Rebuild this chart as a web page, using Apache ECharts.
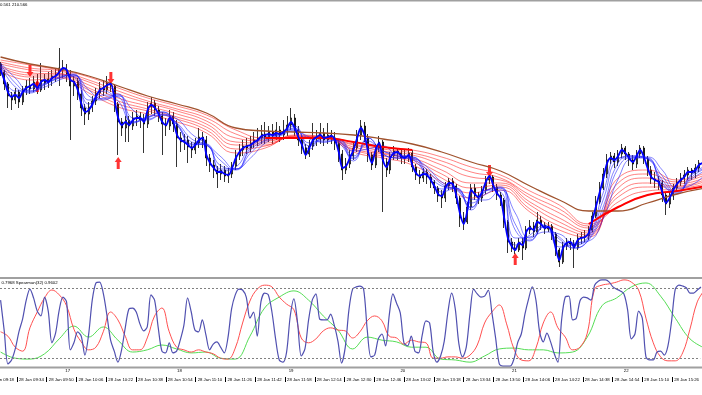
<!DOCTYPE html>
<html><head><meta charset="utf-8">
<script src="https://cdn.jsdelivr.net/npm/echarts@6/dist/echarts.min.js"></script>
<style>html,body{margin:0;padding:0;background:#fff}#c{width:702px;height:395px}</style>
</head><body><div id="c"></div>
<script>
// ===== DATA (price in chart points, oscillator in -1..1) =====
const T0 = 565.2;   // minute-of-day of first sampled bar
const STEP = 1.97;  // minutes between samples

const candleOpen = [236,228,216,204,200,208,198,210,214,211,218,210,220,217,221,224,226,232,230,226,214,219,206,192,186,193,199,207,212,210,217,214,196,178,172,180,174,182,184,180,176,193,197,190,184,176,174,184,176,162,158,160,153,150,157,163,160,142,135,130,126,130,124,126,134,144,150,154,152,157,160,162,166,163,168,164,170,165,170,175,182,170,160,152,146,154,163,161,167,160,165,162,157,146,130,136,144,152,165,174,162,145,135,152,158,138,130,144,149,147,142,144,147,133,125,122,128,123,118,112,104,102,114,119,114,102,82,78,93,112,104,102,110,120,123,113,105,100,78,58,52,50,58,52,70,74,68,80,75,71,74,66,50,38,54,58,56,52,62,63,64,70,84,98,112,126,140,144,138,146,152,146,140,136,146,152,141,130,121,119,117,105,96,104,112,118,122,125,130,127,132,137];
const candleClose = [228,216,204,200,208,198,210,214,211,218,210,220,217,221,224,226,232,230,226,214,219,206,192,186,193,199,207,212,210,217,214,196,178,172,180,174,182,184,180,176,193,197,190,184,176,174,184,176,162,158,160,153,150,157,163,160,142,135,130,126,130,124,126,134,144,150,154,152,157,160,162,166,163,168,164,170,165,170,175,182,170,160,152,146,154,163,161,167,160,165,162,157,146,130,136,144,152,165,174,162,145,135,152,158,138,130,144,149,147,142,144,147,133,125,122,128,123,118,112,104,102,114,119,114,102,82,78,93,112,104,102,110,120,123,113,105,100,78,58,52,50,58,52,70,74,68,80,75,71,74,66,50,38,54,58,56,52,62,63,64,70,84,98,112,126,140,144,138,146,152,146,140,136,146,152,141,130,121,119,117,105,96,104,112,118,122,125,130,127,132,137,136];
const candleLow = [224,210,192,190,196,192,195,205,206,208,206,208,210,212,214,218,214,222,218,160,204,200,184,175,180,188,195,202,204,206,208,188,145,164,158,158,170,174,172,147,172,186,184,178,145,164,170,168,133,148,150,137,142,146,152,152,134,128,122,112,120,118,117,122,130,140,144,146,148,152,154,156,156,158,156,160,158,160,164,170,164,154,146,141,143,150,154,156,154,156,156,150,138,120,126,132,140,148,160,158,138,130,132,148,88,123,126,140,140,136,136,138,128,120,116,118,116,112,106,98,92,98,110,108,96,73,70,76,90,100,96,98,106,116,108,100,94,72,47,48,46,48,40,50,66,63,66,70,66,68,60,44,33,36,50,50,32,50,56,58,60,68,82,96,110,122,136,132,134,142,140,134,130,132,142,136,124,116,112,110,98,85,92,100,108,114,116,120,120,122,128,130];
const candleHigh = [238,230,218,208,212,210,214,220,222,224,226,237,226,228,230,232,252,240,236,230,224,222,210,196,198,204,212,218,220,224,218,216,198,182,184,184,188,190,188,186,198,203,200,194,188,182,190,188,180,168,166,164,158,162,172,168,164,146,140,134,136,134,132,138,150,156,160,162,164,168,172,175,178,174,176,178,174,180,184,192,186,174,164,156,160,177,170,177,172,177,170,168,160,150,142,150,158,170,180,178,166,148,156,164,160,142,148,154,152,150,150,152,150,136,130,132,131,126,120,114,110,118,122,122,116,104,88,98,116,116,108,114,124,124,125,116,108,102,80,62,58,62,62,74,80,78,88,84,78,78,76,68,52,58,62,62,60,66,68,70,74,88,104,118,132,146,148,147,150,156,154,148,145,150,155,154,144,134,128,124,120,108,108,116,122,127,130,133,132,136,140,142];

// fast MA (thick blue), one value per bar
const fastMA = [230,220,208,203,205,202,208,212,214,216,212,218,220,218,222,224,228,232,230,220,218,210,196,188,190,196,204,210,212,215,216,200,182,175,178,175,180,182,182,178,190,195,192,186,178,175,182,178,165,160,158,155,152,155,160,162,145,137,132,128,128,126,125,132,142,148,152,154,155,158,160,164,165,166,165,167,166,168,172,178,172,163,155,145,152,160,163,165,162,163,164,160,148,132,134,142,150,162,172,165,148,137,150,157,140,133,142,147,148,144,142,145,135,127,124,126,125,120,114,106,104,112,117,116,104,86,76,90,110,106,103,108,118,124,115,107,102,82,62,54,50,57,55,68,72,70,78,76,72,73,68,52,40,52,57,58,53,60,62,63,67,80,94,108,122,137,142,140,144,150,147,142,138,144,150,143,132,123,120,118,108,97,102,110,116,120,123,128,128,130,135,137];

// short-term ribbon (thin blue), one value every 4 bars
const blue1 = [233,205,211,217,225,223,191,209,199,178,183,185,175,155,156,129,133,154,163,166,174,151,163,157,142,162,149,146,141,125,108,112,92,110,108,55,65,75,53,56,64,108,142,142,142,115,109,126,134];
const blue2 = [234,209,209,216,223,225,196,205,203,177,183,188,175,156,155,131,131,152,162,166,172,154,162,159,139,162,146,142,141,125,111,112,90,109,112,62,63,74,58,55,63,101,141,144,142,117,106,125,132];
const blue3 = [235,213,208,216,222,226,200,202,205,178,182,188,176,158,155,134,131,150,160,166,171,157,160,159,141,159,146,142,143,127,114,111,93,109,113,70,60,74,61,52,61,94,137,144,141,120,107,123,132];
const blue4 = [236,217,207,215,222,225,204,200,206,182,181,186,177,161,155,139,130,147,159,165,170,161,158,160,144,156,149,144,143,130,116,110,97,106,112,76,59,73,63,52,60,89,132,143,141,124,108,121,130];
const blue5 = [237,222,209,213,220,224,210,201,204,190,180,185,181,166,156,143,131,142,157,164,169,163,158,161,149,151,154,144,142,133,118,112,101,100,110,87,62,68,66,57,59,82,121,142,143,130,112,115,127];

// long-term ribbon (red), one value every 8 bars; redSlow is drawn bold where it shows bold
const red1 = [229,220,222,207,193,186,178,167,147,152,165,163,148,142,135,118,102,110,88,70,63,122,130,120,128];
const red2 = [231,223,223,210,196,189,181,170,151,154,164,163,150,144,138,122,107,113,91,74,65,117,126,118,126];
const red3 = [233,225,225,212,199,191,183,173,155,155,164,163,151,146,140,126,112,115,95,78,67,112,122,116,123];
const red4 = [234,227,226,215,202,194,186,176,158,157,163,162,153,147,142,130,117,117,98,82,69,107,117,114,121];
const red5 = [236,230,227,218,206,197,189,179,162,159,163,162,155,149,145,135,123,120,102,87,72,103,113,113,119];
const red6 = [238,232,229,220,209,199,191,182,166,160,162,162,156,151,147,139,128,122,105,91,74,98,109,111,116];
const redSlow = [240,235,230,223,212,202,194,185,170,162,162,162,158,153,150,143,133,125,109,95,76,93,105,109,114];
const redSlowBoldFrom = [9, 20];   // sample ranges (inclusive) drawn bold
const redSlowBoldTo = [14, 24];

// slow trend MA (brown), one value every 8 bars
const trendMA = [243,236,231,224,214,204,196,187,172,169,168,167,165,161,156,148,138,129,114,100,89,89,97,106,112];

// signal arrows (bar index, price)
const sellBar = [8, 30, 133];
const sellPrice = [229, 222, 129];
const buyBar = [10, 32, 140];
const buyPrice = [214, 137, 41];

// Spearman sub-window
const spearFast = [0.52,-0.18,-0.93,-0.84,-0.59,-0.20,0.09,0.52,0.77,0.57,0.27,0.16,0.59,0.27,-0.45,-0.23,0.30,0.59,0.48,-0.61,-0.45,-0.20,-0.30,-0.73,-0.27,0.52,0.91,0.93,0.68,0.18,-0.39,-0.64,-0.89,-0.61,-0.11,0.32,0.34,0.25,-0.02,-0.18,-0.09,0.64,0.52,-0.11,-0.64,-0.68,-0.45,-0.68,-0.64,-0.39,-0.05,0.57,0.25,-0.16,-0.20,0.07,-0.27,-0.61,-0.48,-0.43,-0.55,-0.68,-0.34,0.32,0.64,0.77,0.75,0.59,0.11,0.25,-0.30,0.48,0.68,0.64,0.25,-0.36,-0.84,-0.89,-0.66,0.16,0.55,0.00,-0.75,-0.59,0.07,0.52,0.66,0.09,0.07,0.07,0.20,-0.05,-0.41,-0.91,-0.55,0.30,0.77,0.82,0.84,0.77,-0.16,-0.77,-0.73,-0.36,-0.25,-0.52,0.18,0.66,0.45,0.23,-0.45,-0.52,-0.30,-0.64,-0.68,-0.27,0.05,0.00,-0.66,-0.89,-0.75,-0.41,0.25,0.68,0.32,-0.48,-0.77,-0.55,0.20,0.77,0.66,0.59,0.61,0.75,0.23,-0.34,-0.93,-0.98,-0.98,-0.98,-0.82,-0.45,-0.25,0.20,0.55,0.82,0.52,-0.20,-0.43,-0.23,-0.43,-0.70,-0.89,0.07,0.59,0.61,0.07,0.11,0.50,0.59,0.57,0.52,0.86,0.95,0.98,0.98,0.93,0.82,0.77,0.73,0.66,0.30,-0.36,-0.25,0.27,0.11,-0.77,-0.84,-0.84,-0.66,-0.64,-0.73,-0.52,0.05,0.77,0.86,0.84,0.80,0.68,0.68,0.75,0.82];
const spearMid = [-0.20,-0.30,-0.55,-0.64,-0.11,0.25,0.57,0.75,0.64,0.39,-0.14,-0.43,-0.61,-0.55,-0.20,0.25,0.07,-0.30,-0.61,-0.61,-0.34,0.16,0.34,-0.20,-0.55,-0.61,-0.66,-0.61,-0.66,-0.70,-0.80,-0.82,-0.57,0.00,0.50,0.77,0.86,0.82,0.59,0.43,0.30,-0.34,-0.45,-0.36,-0.18,-0.11,-0.16,-0.18,-0.34,-0.20,0.05,0.16,0.05,-0.30,-0.34,-0.48,-0.39,-0.43,-0.45,-0.80,-0.80,-0.77,-0.77,-0.80,-0.73,-0.50,0.00,0.25,0.41,-0.02,-0.59,-0.84,-0.86,-0.57,0.00,0.25,-0.11,-0.32,-0.61,-0.55,-0.23,0.77,0.86,0.89,0.93,0.98,0.93,0.75,0.11,-0.45,-0.77,-0.86,-0.86,-0.68,-0.14,0.48,0.75];
const spearSlow = [-0.66,-0.80,-0.82,-0.70,-0.36,-0.07,-0.32,-0.09,-0.39,-0.66,-0.61,-0.50,-0.59,-0.68,-0.66,-0.80,-0.82,-0.30,0.34,0.59,0.73,0.52,0.16,-0.16,-0.59,-0.32,-0.39,-0.43,-0.55,-0.55,-0.82,-0.84,-0.89,-0.75,-0.59,-0.57,-0.61,-0.61,-0.68,-0.66,-0.32,0.39,0.57,0.82,0.91,0.61,0.11,-0.36,-0.57];
const spearLevels = [0.8, -0.8];

// axis texts
const tickDate = '28 Jan';
const tickTimes = ['09:18','09:34','09:50','10:06','10:22','10:38','10:54','11:10','11:26','11:42','11:58','12:14','12:30','12:46','13:02','13:18','13:34','13:50','14:06','14:22','14:38','14:54','15:10','15:26'];
const hourTimes = ['10:00','11:00','12:00','13:00','14:00','15:00'];
const hourLabels = ['17','18','19','20','21','22'];
const mainTitle = '0.561 210.566';
const subTitle = '0.7968 Spearman(32) 0.9602';

// ===== CHART =====
const W = 702;
const X_MIN = 564.89, X_MAX = 941.1;   // visible time window (minute of day)
const PX_PER_MIN = W / (X_MAX - X_MIN);
const toMin = s => { const p = s.split(':').map(Number); return p[0]*60 + p[1]; };
const tickVals = tickTimes.map(toMin);
const hourVals = hourTimes.map(toMin);
const tAt = (k, every) => T0 + k*every*STEP;
const pairs = (arr, every) => arr.map((v,k) => [tAt(k, every), v]);
const FONT = 'Liberation Sans';
const FS = 4.3;
const FONT_CSS = FS + 'px "' + FONT + '"';

const chart = echarts.init(document.getElementById('c'), null, {renderer:'canvas', width:702, height:395});

const thin = (name, data, every, color) => ({
  name, type:'line', xAxisIndex:0, yAxisIndex:0, data: pairs(data, every),
  symbol:'none', smooth:0.5, silent:true, animation:false,
  lineStyle:{color, width:0.8, opacity:0.7}
});

const boldRed = redSlow.map((v,k) => {
  const on = redSlowBoldFrom.some((f,j) => k >= f && k <= redSlowBoldTo[j]);
  return [tAt(k, 8), on ? v : null];
});

const upArrow = 'path://M3.5,0 L7,5 L5,5 L5,12 L2,12 L2,5 L0,5 Z';

// label for first (partly hidden) time tick, left of the visible window
const firstTickX = (tickVals[0] - X_MIN) * PX_PER_MIN;
const visibleTicks = tickVals.filter(v => v >= X_MIN);

const option = {
  animation:false,
  backgroundColor:'#ffffff',
  grid:[
    {left:0, right:0, top:1, height:277},
    {left:0, right:0, top:279, height:88}
  ],
  xAxis:[
    {gridIndex:0, type:'value', min:X_MIN, max:X_MAX, show:false},
    {gridIndex:1, type:'value', min:X_MIN, max:X_MAX, position:'bottom', offset:0,
     axisLine:{show:false}, axisTick:{show:false}, splitLine:{show:false},
     axisLabel:{customValues:hourVals, formatter:v => hourLabels[hourVals.findIndex(h => Math.abs(h-v)<1e-6)] || '',
       align:'left', margin:2, fontSize:FS, fontFamily:FONT, color:'#000'}},
    {gridIndex:1, type:'value', min:X_MIN, max:X_MAX, position:'bottom', offset:10,
     axisLine:{show:false}, splitLine:{show:false},
     axisTick:{show:true, customValues:visibleTicks, length:5, lineStyle:{color:'#000', width:1}},
     axisLabel:{customValues:visibleTicks, showMinLabel:true, showMaxLabel:true,
       formatter:v => { const i = tickVals.findIndex(t => Math.abs(t-v)<1e-6); return i<0 ? '' : tickDate + ' ' + tickTimes[i]; },
       align:'left', padding:[0,0,0,2], margin:1, fontSize:FS, fontFamily:FONT, color:'#000'}}
  ],
  yAxis:[
    {gridIndex:0, type:'value', min:22, max:299, show:false},
    {gridIndex:1, type:'value', min:-1, max:1, show:false}
  ],
  series:[
    {name:'price', type:'candlestick', xAxisIndex:0, yAxisIndex:0, barWidth:1.5, silent:true,
     data: candleOpen.map((o,i) => [tAt(i,1), o, candleClose[i], candleLow[i], candleHigh[i]]),
     itemStyle:{color:'#ffffff', color0:'#000000', borderColor:'#000000', borderColor0:'#000000', borderWidth:0.8}},
    thin('red1', red1, 8, '#ff2020'),
    thin('red2', red2, 8, '#ff2020'),
    thin('red3', red3, 8, '#ff2020'),
    thin('red4', red4, 8, '#ff2020'),
    thin('red5', red5, 8, '#ff2020'),
    thin('red6', red6, 8, '#ff2020'),
    thin('redSlow', redSlow, 8, '#ff2020'),
    thin('blue1', blue1, 4, '#2020ff'),
    thin('blue2', blue2, 4, '#2020ff'),
    thin('blue3', blue3, 4, '#2020ff'),
    thin('blue4', blue4, 4, '#2020ff'),
    thin('blue5', blue5, 4, '#2020ff'),
    {name:'trend', type:'line', xAxisIndex:0, yAxisIndex:0, data:pairs(trendMA, 8), symbol:'none', smooth:0.5, silent:true,
     lineStyle:{color:'#a0522d', width:1.3}},
    {name:'redSlowBold', type:'line', xAxisIndex:0, yAxisIndex:0, data:boldRed, symbol:'none', smooth:0.5, silent:true,
     connectNulls:false, lineStyle:{color:'#ff0000', width:2}},
    {name:'fast', type:'line', xAxisIndex:0, yAxisIndex:0, data:pairs(fastMA, 1), symbol:'none', smooth:0.3, silent:true,
     lineStyle:{color:'#0000ff', width:1.8}},
    {name:'sell', type:'scatter', xAxisIndex:0, yAxisIndex:0, silent:true, symbol:upArrow, symbolRotate:180, symbolSize:[7,12],
     data: sellBar.map((b,k) => [tAt(b,1), sellPrice[k]]), itemStyle:{color:'#ff0000'}},
    {name:'buy', type:'scatter', xAxisIndex:0, yAxisIndex:0, silent:true, symbol:upArrow, symbolSize:[7,12],
     data: buyBar.map((b,k) => [tAt(b,1), buyPrice[k]]), itemStyle:{color:'#ff0000'}},
    {name:'spearSlow', type:'line', xAxisIndex:1, yAxisIndex:1, data:pairs(spearSlow, 4), symbol:'none', smooth:0.4, silent:true,
     lineStyle:{color:'#55dd55', width:1}},
    {name:'spearMid', type:'line', xAxisIndex:1, yAxisIndex:1, data:pairs(spearMid, 2), symbol:'none', smooth:0.4, silent:true,
     lineStyle:{color:'#ff5050', width:1}},
    {name:'spearFast', type:'line', xAxisIndex:1, yAxisIndex:1, data:pairs(spearFast, 1), symbol:'none', smooth:0.3, silent:true,
     lineStyle:{color:'#5050b0', width:1.2},
     markLine:{silent:true, symbol:'none', label:{show:false},
       lineStyle:{color:'#808080', type:[2,2], width:1},
       data: spearLevels.map(v => ({yAxis:v}))}}
  ],
  graphic:[
    {type:'rect', silent:true, z:100, shape:{x:0, y:0, width:702, height:1.5}, style:{fill:'#a0a0a0'}},
    {type:'rect', silent:true, z:100, shape:{x:0, y:277, width:702, height:2}, style:{fill:'#a0a0a0'}},
    {type:'rect', silent:true, z:100, shape:{x:0, y:366.5, width:702, height:2}, style:{fill:'#a0a0a0'}},
    {type:'text', silent:true, z:100, x:firstTickX + 2, y:378, style:{text:tickDate + ' ' + tickTimes[0], font:FONT_CSS, fill:'#000'}},
    {type:'text', silent:true, z:100, x:0, y:2.5, style:{text:mainTitle, font:FONT_CSS, fill:'#000'}},
    {type:'text', silent:true, z:100, x:1.5, y:281, style:{text:subTitle, font:FONT_CSS, fill:'#000'}}
  ]
};
chart.setOption(option);
</script>
</body></html>
